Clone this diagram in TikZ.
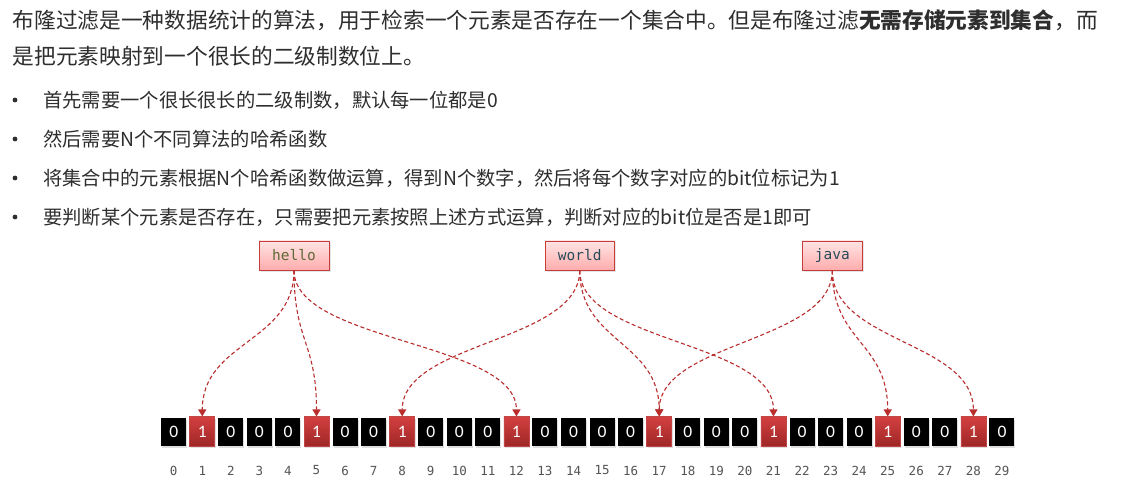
\documentclass[tikz,border=0pt]{standalone}
\usepackage{fontspec}
\setmainfont{Noto Sans CJK SC}
\newfontfamily\monof{DejaVu Sans Mono}
\newfontfamily\bitf{Carlito}
\usetikzlibrary{arrows.meta,shadows}
\definecolor{txt}{HTML}{2E2E2E}
\definecolor{arr}{RGB}{185,45,45}
\definecolor{redtop}{RGB}{212,64,64}
\definecolor{redbot}{RGB}{158,38,38}
\definecolor{redline}{RGB}{195,70,70}
\definecolor{nodetop}{RGB}{255,228,228}
\definecolor{nodebot}{RGB}{255,172,172}
\definecolor{nodeline}{RGB}{200,60,60}
\definecolor{idxc}{RGB}{85,85,85}
\definecolor{hellc}{RGB}{95,105,55}
\definecolor{worldc}{RGB}{40,75,90}
\begin{document}
\begin{tikzpicture}[x=1pt,y=-1pt,
  every node/.style={inner sep=0pt},
  title/.style={anchor=west,text=txt,font=\fontsize{21.7}{25}\selectfont,text height=19.1pt,text depth=2.6pt},
  item/.style={anchor=west,text=txt,font=\fontsize{19.3}{23}\selectfont,text height=17pt,text depth=2.3pt},
  dot/.style={circle,fill=txt,minimum size=4.8pt},
  word/.style={draw=nodeline,line width=0.8pt,top color=nodetop,bottom color=nodebot,
    minimum height=29pt,font=\monof\fontsize{14.5}{16}\selectfont,
    drop shadow={opacity=0.2,shadow xshift=1.5pt,shadow yshift=-1.5pt}},
  bit0/.style={fill=black,minimum width=25pt,minimum height=28pt,text=white,
    font=\bitf\fontsize{17.5}{20}\selectfont,
    drop shadow={opacity=0.25,shadow xshift=1pt,shadow yshift=-2pt}},
  bit1/.style={draw=redline,line width=0.6pt,top color=redtop,bottom color=redbot,
    minimum width=25pt,minimum height=29.5pt,text=white,
    font=\bitf\fontsize{17.5}{20}\selectfont,
    drop shadow={opacity=0.25,shadow xshift=1pt,shadow yshift=-2pt}},
  idx/.style={text=idxc,font=\monof\fontsize{12.5}{14}\selectfont},
  conn/.style={draw=arr,line width=1.1pt,dash pattern=on 4pt off 2.6pt,
    -{Triangle[width=8pt,length=7pt]}}
]
\fill[white] (0,0) rectangle (1134,486);
\useasboundingbox (0,0) rectangle (1134,486);

\node[title] (t1) at (12.5,20) {布隆过滤是一种数据统计的算法，用于检索一个元素是否存在一个集合中。但是布隆过滤\textbf{无需存储元素到集合}，而};
\node[title] (t2) at (12.5,56.5) {是把元素映射到一个很长的二级制数位上。};

\node[dot] (d1) at (15,100) {};
\node[dot] (d2) at (15,139) {};
\node[dot] (d3) at (15,178) {};
\node[dot] (d4) at (15,217) {};
\node[item] (i1) at (43,100) {首先需要一个很长很长的二级制数，默认每一位都是0};
\node[item] (i2) at (43,139) {然后需要N个不同算法的哈希函数};
\node[item] (i3) at (43,178) {将集合中的元素根据N个哈希函数做运算，得到N个数字，然后将每个数字对应的bit位标记为1};
\node[item] (i4) at (43,217) {要判断某个元素是否存在，只需要把元素按照上述方式运算，判断对应的bit位是否是1即可};

\node[word,minimum width=70pt,text=hellc] (hello) at (294,255.5) {hello};
\node[word,minimum width=69pt,text=worldc] (world) at (579.7,255.5) {world};
\node[word,minimum width=60pt,text=worldc] (java) at (832.3,255.5) {java};

\foreach \v [count=\i from 0] in {0,1,0,0,0,1,0,0,1,0,0,0,1,0,0,0,0,1,0,0,0,1,0,0,0,1,0,0,1,0}{
  \node[bit\v] (b\i) at ({173.7+28.56*\i},431.5) {\v};
  \node[idx] (l\i) at ({173.7+28.56*\i},470.5) {\i};
}

\draw[conn] (hello.south) .. controls +(0,72) and +(0,-75) .. (b1.north);
\draw[conn] (hello.south) .. controls +(0,72) and +(0,-75) .. (b5.north);
\draw[conn] (hello.south) .. controls +(0,72) and +(0,-75) .. (b12.north);
\draw[conn] (world.south) .. controls +(0,72) and +(0,-75) .. (b8.north);
\draw[conn] (world.south) .. controls +(0,72) and +(0,-75) .. (b17.north);
\draw[conn] (world.south) .. controls +(0,72) and +(0,-75) .. (b21.north);
\draw[conn] (java.south) .. controls +(0,72) and +(0,-75) .. (b17.north);
\draw[conn] (java.south) .. controls +(0,72) and +(0,-75) .. (b25.north);
\draw[conn] (java.south) .. controls +(0,72) and +(0,-75) .. (b28.north);
\end{tikzpicture}
\end{document}
